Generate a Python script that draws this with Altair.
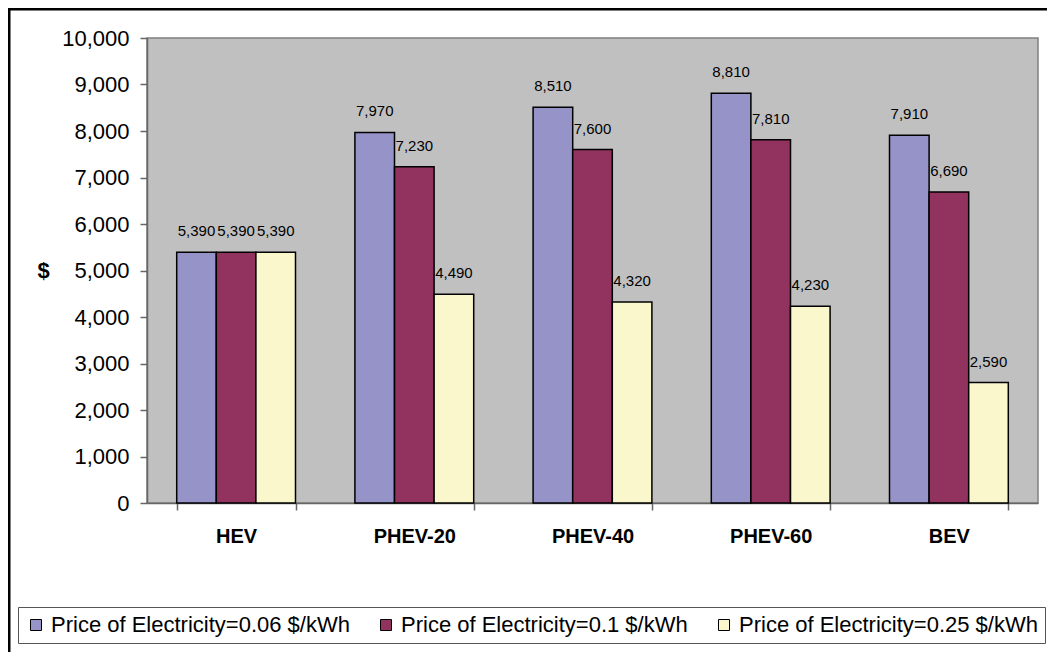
import altair as alt
import pandas as pd

categories = ["HEV", "PHEV-20", "PHEV-40", "PHEV-60", "BEV"]
series = [
    "Price of Electricity=0.06 $/kWh",
    "Price of Electricity=0.1 $/kWh",
    "Price of Electricity=0.25 $/kWh",
]
values_006 = [5390, 7970, 8510, 8810, 7910]
values_010 = [5390, 7230, 7600, 7810, 6690]
values_025 = [5390, 4490, 4320, 4230, 2590]
y_ticks = list(range(0, 10001, 1000))
colors = ["#9693C8", "#92325E", "#FBF7CD"]

rows = []
for s, vals in zip(series, [values_006, values_010, values_025]):
    for c, v in zip(categories, vals):
        rows.append({"category": c, "series": s, "value": v})
df = pd.DataFrame(rows)

FONT = "Liberation Sans"
W, H = 891, 465
PAD = {"left": 139, "top": 30, "right": 9, "bottom": 149}

x_enc = alt.X(
    "category:N",
    sort=categories,
    scale=alt.Scale(paddingInner=1 / 3, paddingOuter=1 / 6),
    axis=alt.Axis(
        title=None,
        labelAngle=0,
        labelFont=FONT,
        labelFontSize=20,
        labelFontWeight="bold",
        labelColor="black",
        labelBaseline="alphabetic",
        labelPadding=32,
        tickBand="extent",
        tickSize=7,
        tickColor="#666666",
        domainColor="#666666",
        domainWidth=1.5,
        tickWidth=1.5,
    ),
)
xoff_enc = alt.XOffset(
    "series:N", sort=series, scale=alt.Scale(paddingInner=0, paddingOuter=0)
)
y_enc = alt.Y(
    "value:Q",
    scale=alt.Scale(domain=[0, 10000], nice=False),
    axis=alt.Axis(
        title="$",
        titleAngle=0,
        titleAlign="center",
        titleBaseline="middle",
        titleX=-104,
        titleY=232,
        titleFont=FONT,
        titleFontSize=22,
        titleFontWeight="bold",
        titleColor="black",
        values=y_ticks,
        labelExpr="format(datum.value, ',')",
        grid=False,
        labelFont=FONT,
        labelFontSize=22,
        labelColor="black",
        labelPadding=11,
        tickSize=7,
        tickColor="#666666",
        domainColor="#666666",
        domainWidth=1.5,
        tickWidth=1.5,
    ),
)

bars = alt.Chart(df).mark_bar(stroke="black", strokeWidth=1.5).encode(
    x=x_enc,
    xOffset=xoff_enc,
    y=y_enc,
    color=alt.Color(
        "series:N",
        sort=series,
        scale=alt.Scale(domain=series, range=colors),
        legend=alt.Legend(
            title=None,
            orient="none",
            legendX=-129,
            legendY=569,
            direction="horizontal",
            symbolType="square",
            symbolSize=121,
            symbolStrokeColor="black",
            symbolStrokeWidth=1,
            labelFont=FONT,
            labelFontSize=22,
            labelColor="black",
            labelOffset=4,
            labelLimit=0,
            columnPadding=25,
            padding=7,
            strokeColor="#555555",
            fillColor="white",
        ),
    ),
)

labels = alt.Chart(df).mark_text(
    font=FONT, fontSize=15, color="black", baseline="alphabetic", dy=-16
).encode(
    x=alt.X("category:N", sort=categories),
    xOffset=alt.XOffset("series:N", sort=series),
    y=alt.Y("value:Q"),
    text=alt.Text("value:Q", format=","),
)

frame = alt.Chart(pd.DataFrame({"f": [0]})).mark_rect(
    fill=None, stroke="black", strokeWidth=2.5
).encode(
    x=alt.value(-137.75),
    x2=alt.value(920),
    y=alt.value(-28.75),
    y2=alt.value(640),
)

chart = (
    alt.layer(bars, labels, frame)
    .properties(
        width=W,
        height=H,
        padding=PAD,
        autosize=alt.AutoSizeParams(type="none"),
        background="white",
    )
    .configure_view(fill="#C0C0C0", stroke="#808080", strokeWidth=1.5)
)

chart.save("out.html", embed_options={"renderer": "svg", "actions": False})
